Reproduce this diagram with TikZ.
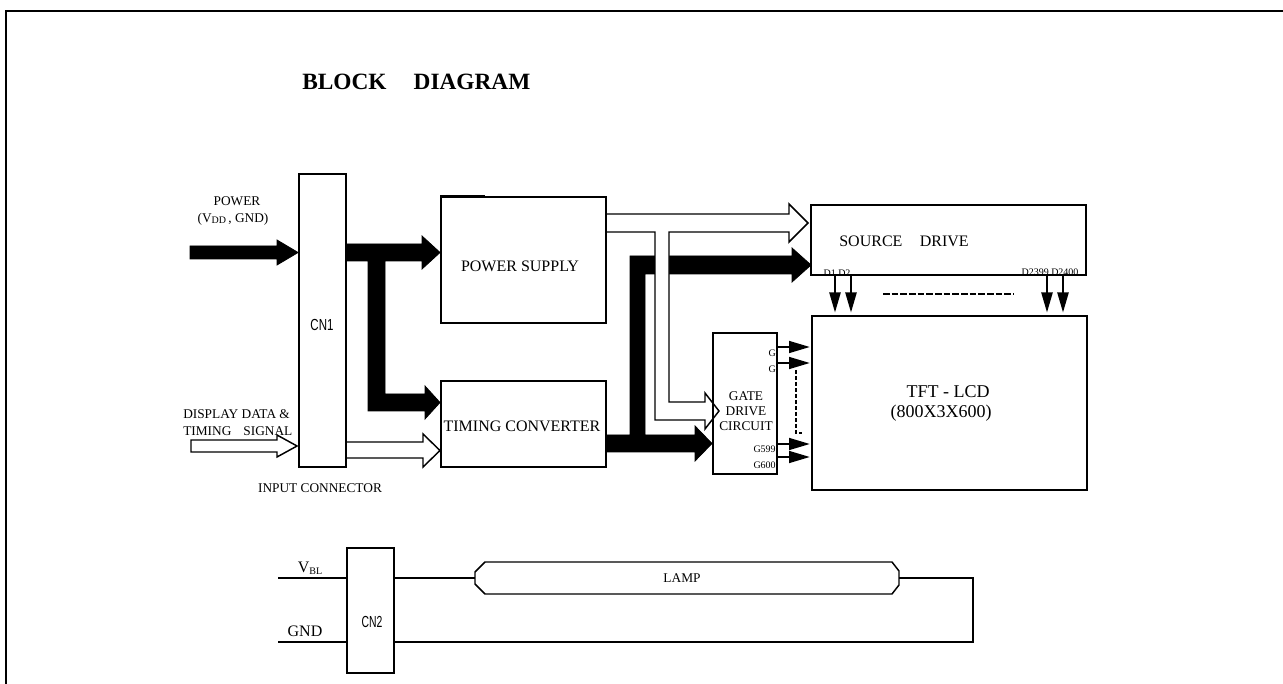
\documentclass[tikz,border=0pt]{standalone}
\usepackage{fontspec}
\setmainfont{Liberation Serif}
\setsansfont{Liberation Sans}
\usepackage{graphicx}
\usetikzlibrary{arrows.meta,fit}
\pgfdeclarelayer{bg}
\pgfsetlayers{bg,main}
\begin{document}
\begin{tikzpicture}[x=0.75pt,y=-0.75pt,
  box/.style={draw,line width=1.4pt,inner sep=0pt},
  boxpos/.style={inner sep=0pt},
  lbl/.style={inner sep=0pt,align=center},
  t7/.style={font=\fontsize{7.5}{9}\selectfont},
  t10/.style={font=\fontsize{10}{12}\selectfont},
  t12/.style={font=\fontsize{12}{14}\selectfont},
  t13/.style={font=\fontsize{13.5}{16}\selectfont},
  wire/.style={line width=1.1pt},
  fatblack/.style={fill=black,draw=black,line width=0.6pt,line join=miter},
  fatopen/.style={fill=white,draw=black,line width=1.1pt,line join=miter},
  darrow/.style={wire,-{Triangle[length=15pt,width=8.5pt]}},
  garrow/.style={wire,-{Triangle[length=15.5pt,width=9pt]}},
]
\useasboundingbox (0,0) rectangle (1283,684);
\draw[line width=1.5pt] (6,684) -- (6,11) -- (1283,11);

% box corners
\coordinate (cn1a) at (299,174); \coordinate (cn1b) at (346,467);
\coordinate (psa) at (441,197);  \coordinate (psb) at (606,323);
\coordinate (tca) at (441,381);  \coordinate (tcb) at (606,467);
\coordinate (sda) at (811,205);  \coordinate (sdb) at (1086,275);
\coordinate (tfta) at (812,316); \coordinate (tftb) at (1087,490);
\coordinate (gta) at (713,333);  \coordinate (gtb) at (777,474);
\coordinate (cn2a) at (347,548); \coordinate (cn2b) at (394,673);

\node[box,fit=(cn1a)(cn1b)] (cn1) {};
\node[box,fit=(psa)(psb)] (ps) {};
\node[box,fit=(tca)(tcb)] (tc) {};
\node[box,fit=(sda)(sdb)] (sd) {};
\node[box,fit=(tfta)(tftb)] (tft) {};
\node[box,fit=(gta)(gtb)] (gate) {};
\node[box,fit=(cn2a)(cn2b)] (cn2) {};
\draw[wire] (ps.north west |- 0,195.5) -- (485,195.5);

% free ends
\coordinate (pwrin) at (190,252.5);
\coordinate (datin) at (191,446);

\begin{pgfonlayer}{bg}
% power input
\filldraw[fatblack] (pwrin |- 0,246) -- (277,246) -- (277,240) -- (cn1.west |- 0,252.5) -- (277,265) -- (277,259) -- (pwrin |- 0,259) -- cycle;
% CN1 -> power supply and timing converter
\filldraw[fatblack] (cn1.east |- 0,244) -- (422,244) -- (422,236) -- (440,252.5) -- (422,269) -- (422,261)
  -- (385,261) -- (385,394) -- (425,394) -- (425,386) -- (440,402.5) -- (425,419) -- (425,411)
  -- (368,411) -- (368,261) -- (cn1.east |- 0,261) -- cycle;
% timing converter -> gate drive and source drive
\filldraw[fatblack] (tc.east |- 0,435) -- (630,435) -- (630,256) -- (792,256) -- (792,248) -- (811,265) -- (792,282) -- (792,274)
  -- (645,274) -- (645,435) -- (695,435) -- (695,426) -- (712,443.5) -- (695,461) -- (695,452) -- (tc.east |- 0,452) -- cycle;
% power supply -> source drive and gate drive (open)
\filldraw[fatopen] (ps.east |- 0,214) -- (789,214) -- (789,204) -- (808,223) -- (789,242) -- (789,232)
  -- (669,232) -- (669,402) -- (705,402) -- (705,393) -- (719,411) -- (705,429) -- (705,420)
  -- (655,420) -- (655,232) -- (ps.east |- 0,232);
% display data input (open)
\filldraw[fatopen] (datin |- 0,440) -- (277,440) -- (277,435) -- (297,446) -- (277,457) -- (277,452) -- (datin |- 0,452) -- cycle;
% CN1 -> timing converter (open)
\filldraw[fatopen] (cn1.east |- 0,442) -- (423,442) -- (423,434) -- (440,450.5) -- (423,467) -- (423,458) -- (cn1.east |- 0,458);
\end{pgfonlayer}

% texts
\node[lbl,font=\fontsize{17.5}{20}\selectfont\bfseries,anchor=west] (title) at (302,82) {BLOCK\hspace{16pt} DIAGRAM};
\node[lbl,t10] (pwrlbl) at (237,201) {POWER};
\node[lbl,t10] (pwrlbl2) at (233,219) {(V\raisebox{-0.25ex}{\fontsize{7.5}{9}\selectfont DD}\,, GND)};
\node[lbl,t10,align=left,anchor=west] (datlbl) at (183,414) {DISPLAY DATA \&};
\node[lbl,t10,align=left,anchor=west] (datlbl2) at (183,431) {TIMING\hspace{6.5pt} SIGNAL};
\node[lbl,t10] (inconn) at (320,488) {INPUT CONNECTOR};
\node[lbl,font=\fontsize{12}{14}\selectfont\sffamily] (cn1lbl) at (322,325) {\scalebox{0.72}[1]{CN1}};
\node[lbl,t12] (pslbl) at (520,266) {POWER SUPPLY};
\node[lbl,t12] (tclbl) at (522,426) {TIMING CONVERTER};
\node[lbl,t12] (sdlbl) at (904,241) {SOURCE\hspace{10pt} DRIVE};
\node[lbl,t13] (tftlbl) at (948,392) {TFT - LCD};
\node[lbl,t13] (tftlbl2) at (941,413) {(800X3X600)};
\node[lbl,t10] (gatelbl) at (746,411) {GATE\\[-1pt]DRIVE\\[-1pt]CIRCUIT};
\node[lbl,t7,anchor=east] (g1) at (776,353) {G};
\node[lbl,t7,anchor=east] (g2) at (776,369) {G};
\node[lbl,t7,anchor=east] (g599) at (776,449) {G599};
\node[lbl,t7,anchor=east] (g600) at (776,465) {G600};
\node[lbl,t7] (dl) at (837,273) {D1 D2};
\node[lbl,t7] (dr) at (1050,272) {D2399 D2400};

% source -> TFT arrows
\foreach \xx in {835,851,1047,1063}
  \draw[darrow,shorten >=2pt] (sd.south -| \xx,0) -- (tft.north -| \xx,0);
\draw[line width=1.2pt,dash pattern=on 5pt off 1.5pt] (883,294) -- (1014,294);

% gate -> TFT arrows
\foreach \yy in {347,363,444,457}
  \draw[garrow,shorten >=1pt] (gate.east |- 0,\yy) -- (tft.west |- 0,\yy);
\draw[wire,dash pattern=on 3pt off 1.5pt] (796,370) -- (796,433) -- (802,433);

% lamp section
\coordinate (vblin) at (278,578);
\coordinate (gndin) at (278,642);
\coordinate (lampL) at (475,578);
\coordinate (lampR) at (899,578);
\draw[wire,line join=miter] (485,562) -- (892,562) -- (899,571) -- (lampR) -- (899,585) -- (892,594) -- (485,594) -- (475,584) -- (lampL) -- (475,572) -- cycle;
\node[lbl,t10] (lamp) at (682,578) {LAMP};
\draw[wire] (vblin) -- (cn2.west |- vblin);
\draw[wire] (gndin) -- (cn2.west |- gndin);
\draw[wire] (cn2.east |- lampL) -- (lampL);
\draw[wire] (lampR) -- (973,578) -- (973,642) -- (cn2.east |- gndin);
\node[lbl,t12] (vbl) at (310,568) {V\raisebox{-0.3ex}{\fontsize{7.5}{9}\selectfont BL}};
\node[lbl,t12] (gndlbl) at (305,631) {GND};
\node[lbl,font=\fontsize{12}{14}\selectfont\sffamily] (cn2lbl) at (372,622) {\scalebox{0.65}[1]{CN2}};
\end{tikzpicture}
\end{document}
